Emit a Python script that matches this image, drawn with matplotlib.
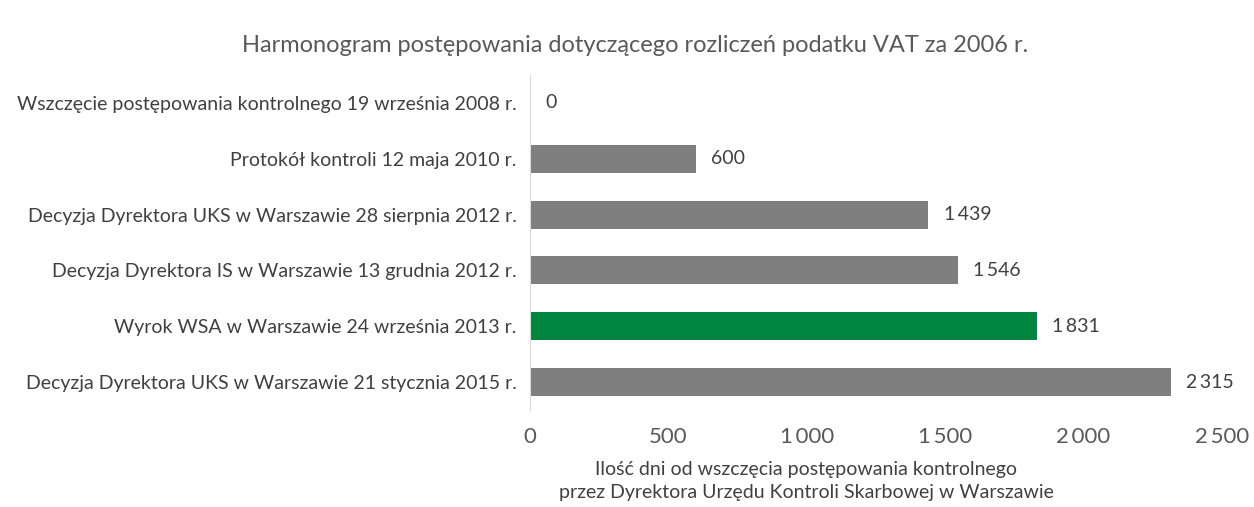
import matplotlib.pyplot as plt

# data
categories = [
    "Wszczęcie postępowania kontrolnego 19 września 2008 r.",
    "Protokół kontroli 12 maja 2010 r.",
    "Decyzja Dyrektora UKS w Warszawie 28 sierpnia 2012 r.",
    "Decyzja Dyrektora IS w Warszawie 13 grudnia 2012 r.",
    "Wyrok WSA w Warszawie 24 września 2013 r.",
    "Decyzja Dyrektora UKS w Warszawie 21 stycznia 2015 r.",
]
days = [0, 600, 1439, 1546, 1831, 2315]
highlight = [False, False, False, False, True, False]
xticks = [0, 500, 1000, 1500, 2000, 2500]

GREY = "#7F7F7F"
GREEN = "#00853F"
TEXT = "#404040"


def fmt(v):
    # polish thousands separator (thin space look)
    return f"{v:,}".replace(",", "\u2009")


plt.rcParams["font.family"] = ["Lato", "DejaVu Sans"]

fig = plt.figure(figsize=(12.54, 5.07), dpi=100)
ax = fig.add_axes([530 / 1254, 1 - 410 / 507, (1222 - 530) / 1254, (410 - 75) / 507])

colors = [GREEN if h else GREY for h in highlight]
ypos = list(range(len(categories)))
ax.barh(ypos, days, height=0.5, color=colors)

for y, v in zip(ypos, days):
    ax.text(v + 55, y, fmt(v), va="center", ha="left", fontsize=14, color=TEXT)

ax.set_xlim(0, 2500)
ax.set_ylim(len(categories) - 0.5, -0.5)
ax.set_yticks(ypos)
ax.set_yticklabels(categories, fontsize=14, color=TEXT)
ax.set_xticks(xticks)
ax.set_xticklabels([fmt(t) for t in xticks], fontsize=16, color="#595959")
ax.tick_params(axis="both", length=0)
ax.tick_params(axis="y", pad=9.5)
ax.tick_params(axis="x", pad=12)

for side in ["top", "right", "bottom"]:
    ax.spines[side].set_visible(False)
ax.spines["left"].set_color("#D9D9D9")

fig.text(806 / 1254, 1 - 461 / 507,
         "Ilość dni od wszczęcia postępowania kontrolnego\n"
         "przez Dyrektora Urzędu Kontroli Skarbowej w Warszawie",
         ha="center", va="top", fontsize=14, color=TEXT, linespacing=1.45)

fig.text(635 / 1254, 1 - 45 / 507,
         "Harmonogram postępowania dotyczącego rozliczeń podatku VAT za 2006 r.",
         ha="center", va="center", fontsize=17, color="#595959")

fig.savefig("out.png", dpi=100)
